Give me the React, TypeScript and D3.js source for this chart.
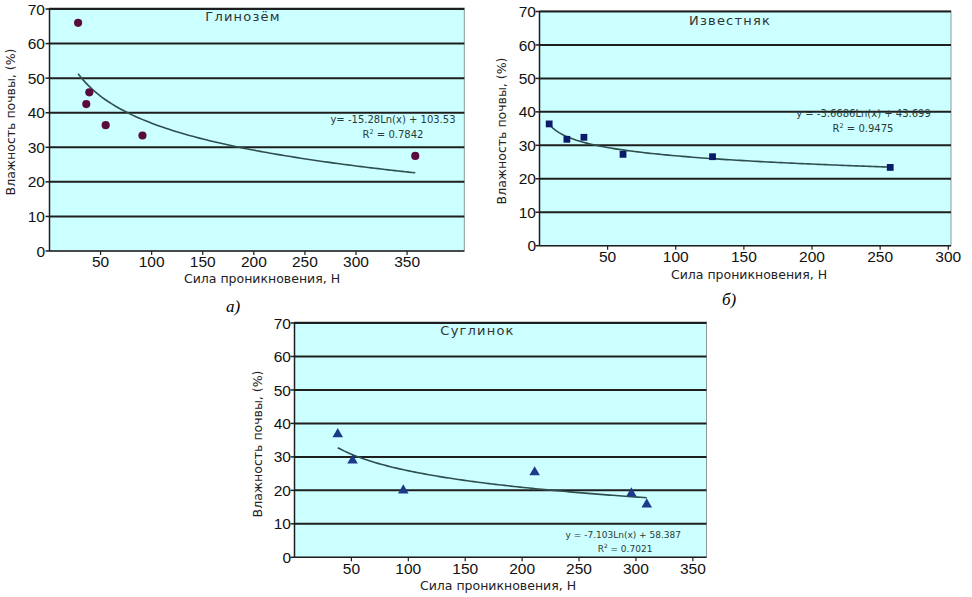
import React from "react";
import * as d3 from "d3";

// ---------- data ----------
const glinoX = [28, 36, 39, 55, 91, 358];
const glinoY = [66, 42.5, 45.9, 36.4, 33.4, 27.5];
const izvX = [7.1, 20.1, 32.6, 61.3, 127, 257.4];
const izvY = [36.4, 31.8, 32.4, 27.3, 26.6, 23.4];
const sugX = [38, 51, 95.6, 211, 296, 309.5];
const sugY = [36.8, 28.9, 20, 25.4, 19.1, 15.8];

const yTicks = [0, 10, 20, 30, 40, 50, 60, 70];
const xTicksA = [50, 100, 150, 200, 250, 300, 350];
const xTicksB = [50, 100, 150, 200, 250, 300];
const xTicksC = [50, 100, 150, 200, 250, 300, 350];

const titles = ["Глинозём", "Известняк", "Суглинок"];
const equations = [
  "y= -15.28Ln(x) + 103.53",
  "y = -3.6686Ln(x) + 43.699",
  "y = -7.103Ln(x) + 58.387",
];
const r2Values = ["0.7842", "0.9475", "0.7021"];
const captions = ["а)", "б)"];
const xTitle = "Сила проникновения, Н";
const yTitle = "Влажность почвы, (%)";

// ---------- helpers ----------
function logFit(xs: number[], ys: number[]) {
  const lx = xs.map((v) => Math.log(v));
  const mx = d3.mean(lx)!;
  const my = d3.mean(ys)!;
  let sxy = 0,
    sxx = 0;
  lx.forEach((v, i) => {
    sxy += (v - mx) * (ys[i] - my);
    sxx += (v - mx) * (v - mx);
  });
  const a = sxy / sxx;
  return { a, b: my - a * mx };
}

const BG = "#CCFFFF";
const GRID = "#1e1e1e";
const TREND = "#2f4f4f";
const FONT = "'DejaVu Sans', Verdana, sans-serif";
const NUMFONT = "'Liberation Sans', Arial, sans-serif";

type PanelProps = {
  xs: number[];
  ys: number[];
  xTicks: number[];
  title: string;
  eq: string;
  r2: string;
  marker: "circle" | "square" | "triangle";
  color: string;
  layout: {
    left: number;
    right: number;
    top: number;
    bottom: number;
    yTopPx: number;
    xMax: number;
    titlePos: [number, number];
    xTitlePos: [number, number];
    yTitlePos: [number, number];
    eqPos: [number, number];
    r2Pos: [number, number];
    eqSize: number;
    yLabelX: number;
    xLabelY: number;
  };
};

function Panel({ xs, ys, xTicks, title, eq, r2, marker, color, layout: L }: PanelProps) {
  const x = d3.scaleLinear().domain([0, L.xMax]).range([L.left, L.right]);
  const y = d3.scaleLinear().domain([0, 70]).range([L.bottom, L.yTopPx]);
  const fit = logFit(xs, ys);
  const [x0, x1] = d3.extent(xs) as [number, number];
  const samples = d3.range(0, 101).map((i) => x0 + ((x1 - x0) * i) / 100);
  const line = d3
    .line<number>()
    .x((v) => x(v))
    .y((v) => y(fit.a * Math.log(v) + fit.b))
    .curve(d3.curveLinear);

  const sym =
    marker === "circle"
      ? d3.symbol(d3.symbolCircle, 52)
      : marker === "square"
      ? d3.symbol(d3.symbolSquare, 46)
      : d3.symbol(d3.symbolTriangle, 48);

  return (
    <g>
      <rect
        x={L.left}
        y={L.top}
        width={L.right - L.left}
        height={L.bottom - L.top}
        fill={BG}
        stroke="#8a9a9a"
        strokeWidth={1}
      />
      {yTicks.map((t) => (
        <g key={"y" + t}>
          {t > 0 && (
            <line x1={L.left} x2={L.right} y1={y(t)} y2={y(t)} stroke={GRID} strokeWidth={2} />
          )}
          <line x1={L.left - 4} x2={L.left} y1={y(t)} y2={y(t)} stroke={GRID} strokeWidth={1.5} />
          <text
            x={L.yLabelX}
            y={y(t)}
            dy="0.36em"
            textAnchor="end"
            fontFamily={NUMFONT}
            fontSize={15.5}
            fill="#111"
          >
            {t}
          </text>
        </g>
      ))}
      {xTicks.map((t) => (
        <g key={"x" + t}>
          <line x1={x(t)} x2={x(t)} y1={L.bottom} y2={L.bottom + 4} stroke={GRID} strokeWidth={1.2} />
          <text
            x={x(t)}
            y={L.xLabelY}
            textAnchor="middle"
            fontFamily={NUMFONT}
            fontSize={15.5}
            fill="#111"
          >
            {t}
          </text>
        </g>
      ))}
      <line x1={L.left} x2={L.left} y1={L.top} y2={L.bottom} stroke={GRID} strokeWidth={1.5} />
      <line x1={L.left} x2={L.right} y1={L.bottom} y2={L.bottom} stroke={GRID} strokeWidth={1.5} />
      <path d={line(samples) || ""} fill="none" stroke={TREND} strokeWidth={1.6} />
      {xs.map((v, i) => (
        <path
          key={"p" + i}
          d={sym() || ""}
          transform={`translate(${x(v)},${y(ys[i])})`}
          fill={color}
        />
      ))}
      <text
        x={L.titlePos[0]}
        y={L.titlePos[1]}
        textAnchor="middle"
        fontFamily={FONT}
        fontSize={13}
        letterSpacing={1.2}
        fill="#333"
      >
        {title}
      </text>
      <text
        x={L.eqPos[0]}
        y={L.eqPos[1]}
        textAnchor="middle"
        fontFamily={FONT}
        fontSize={L.eqSize}
        fill="#2a3a3a"
      >
        {eq}
      </text>
      <text
        x={L.r2Pos[0]}
        y={L.r2Pos[1]}
        textAnchor="middle"
        fontFamily={FONT}
        fontSize={L.eqSize}
        fill="#2a3a3a"
      >
        R<tspan dy={-4} fontSize={L.eqSize * 0.65}>2</tspan>
        <tspan dy={4}>{" = " + r2}</tspan>
      </text>
      <text
        x={L.xTitlePos[0]}
        y={L.xTitlePos[1]}
        textAnchor="middle"
        fontFamily={FONT}
        fontSize={12.5}
        fill="#222"
      >
        {xTitle}
      </text>
      <text
        transform={`translate(${L.yTitlePos[0]},${L.yTitlePos[1]}) rotate(-90)`}
        textAnchor="middle"
        dy="0.35em"
        fontFamily={FONT}
        fontSize={12.5}
        fill="#222"
      >
        {yTitle}
      </text>
    </g>
  );
}

export default function App() {
  return (
    <svg
      width={972}
      height={597}
      style={{ position: "absolute", left: 0, top: 0, background: "#fff" }}
    >
      <Panel
        xs={glinoX}
        ys={glinoY}
        xTicks={xTicksA}
        title={titles[0]}
        eq={equations[0]}
        r2={r2Values[0]}
        marker="circle"
        color="#5a0a3c"
        layout={{
          left: 49.5,
          right: 464.3,
          top: 8,
          bottom: 251,
          yTopPx: 9,
          xMax: 406,
          titlePos: [243, 21],
          xTitlePos: [262, 283],
          yTitlePos: [11, 122],
          eqPos: [393, 123],
          r2Pos: [393, 138],
          eqSize: 10,
          yLabelX: 45,
          xLabelY: 267,
        }}
      />
      <Panel
        xs={izvX}
        ys={izvY}
        xTicks={xTicksB}
        title={titles[1]}
        eq={equations[1]}
        r2={r2Values[1]}
        marker="square"
        color="#0a1a6a"
        layout={{
          left: 539.5,
          right: 951,
          top: 11,
          bottom: 245.7,
          yTopPx: 11.5,
          xMax: 302,
          titlePos: [730, 25],
          xTitlePos: [749, 279],
          yTitlePos: [502, 131],
          eqPos: [863.5, 117],
          r2Pos: [863, 132],
          eqSize: 10,
          yLabelX: 536,
          xLabelY: 262,
        }}
      />
      <Panel
        xs={sugX}
        ys={sugY}
        xTicks={xTicksC}
        title={titles[2]}
        eq={equations[2]}
        r2={r2Values[2]}
        marker="triangle"
        color="#1d3a8a"
        layout={{
          left: 294.5,
          right: 706.5,
          top: 322,
          bottom: 557.3,
          yTopPx: 323,
          xMax: 362,
          titlePos: [477.5, 335],
          xTitlePos: [498, 590],
          yTitlePos: [258, 444],
          eqPos: [623.3, 538.3],
          r2Pos: [625, 552.3],
          eqSize: 9,
          yLabelX: 291,
          xLabelY: 574,
        }}
      />
      <text x={226} y={312} fontFamily="'Liberation Serif', 'Times New Roman', serif" fontStyle="italic" fontSize={17}>
        {captions[0]}
      </text>
      <text x={722} y={305} fontFamily="'Liberation Serif', 'Times New Roman', serif" fontStyle="italic" fontSize={17}>
        {captions[1]}
      </text>
    </svg>
  );
}
